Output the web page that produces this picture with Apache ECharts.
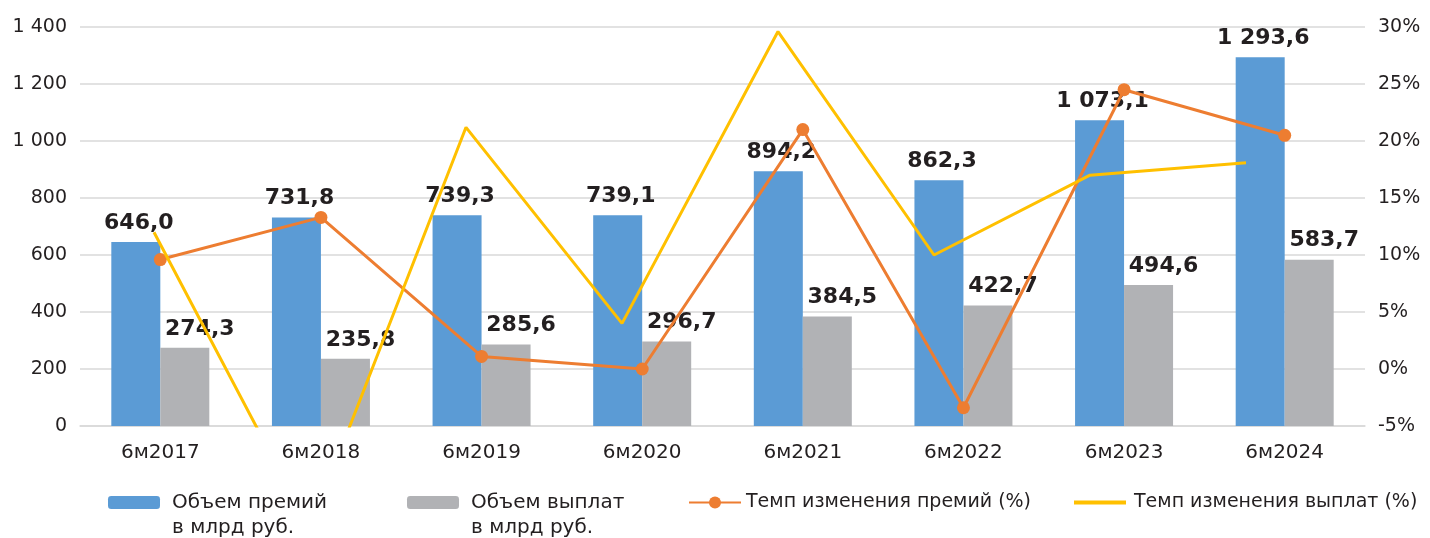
<!DOCTYPE html>
<html>
<head>
<meta charset="utf-8">
<script src="https://cdn.jsdelivr.net/npm/echarts@6/dist/echarts.min.js"></script>
<style>
  html, body { margin: 0; padding: 0; background: #fff; }
  #charts { width: 1430px; height: 538px; }
</style>
</head>
<body>
<div id="charts"></div>
<script>
// данные
let categories = ["6м2017", "6м2018", "6м2019", "6м2020", "6м2021", "6м2022", "6м2023", "6м2024"];
let premiums = [646.0, 731.8, 739.3, 739.1, 894.2, 862.3, 1073.1, 1293.6];
let payouts = [274.3, 235.8, 285.6, 296.7, 384.5, 422.7, 494.6, 583.7];
let premiumsRate = [9.6, 13.3, 1.1, 0.0, 21.0, -3.4, 24.5, 20.5];
let payoutsRate = [12.0, -14.0, 21.2, 4.0, 29.6, 10.0, 17.0, 18.1];
let leftTicks = { min: 0, max: 1400, interval: 200 };
let rightTicks = { min: -5, max: 30, interval: 5 };

let colors = ["#5b9bd5", "#b1b2b5", "#ed7d31", "#ffc000"];
let textColor = "#231f20";
let font = "DejaVu Sans";

function fmtNum(v) {
  let s = v.toFixed(1).replace(".", ",");
  let parts = s.split(",");
  parts[0] = parts[0].replace(/\B(?=(\d{3})+(?!\d))/g, " ");
  return parts.join(",");
}

let chartDom = document.getElementById("charts");
let myChart = echarts.init(chartDom);

let legendBase = {
  orient: "horizontal",
  itemWidth: 52,
  itemHeight: 13,
  itemGap: 0,
  padding: 0,
  selectedMode: false,
};

// пустая строка сверху, чтобы первая строка подписи стояла напротив значка
function twoLine(name) {
  return "\u00a0\n" + name;
}

let option = {
  animation: false,
  textStyle: { fontFamily: font, color: textColor },
  grid: [
    { left: 80, right: 65, top: 27, bottom: 112 },
    // жёлтая линия в оригинале смещена относительно столбцов
    { left: 76, right: 106, top: 27, bottom: 112 },
  ],
  legend: [
    Object.assign({}, legendBase, {
      left: 108,
      top: 465,
      data: ["Объем премий\nв млрд руб."],
      formatter: twoLine,
      textStyle: { fontFamily: font, fontSize: 20, color: textColor, lineHeight: 25, padding: [0, 0, 0, 7] },
    }),
    Object.assign({}, legendBase, {
      left: 407,
      top: 465,
      data: ["Объем выплат\nв млрд руб."],
      formatter: twoLine,
      textStyle: { fontFamily: font, fontSize: 20, color: textColor, lineHeight: 25, padding: [0, 0, 0, 7] },
    }),
    Object.assign({}, legendBase, {
      left: 688,
      top: 490,
      itemHeight: 15,
      data: ["Темп изменения премий (%)"],
      textStyle: { fontFamily: font, fontSize: 19, color: textColor, lineHeight: 25 },
    }),
    Object.assign({}, legendBase, {
      left: 1074,
      top: 490,
      itemHeight: 4,
      data: [{ name: "Темп изменения выплат (%)", icon: "rect" }],
      textStyle: { fontFamily: font, fontSize: 19, color: textColor, lineHeight: 25, padding: [0, 0, 0, 3] },
    }),
  ],
  xAxis: [
    {
      type: "category",
      gridIndex: 0,
      data: categories,
      axisLine: { show: true, lineStyle: { color: "#d9d9d9", width: 1.5 } },
      axisTick: { show: false },
      axisLabel: { fontFamily: font, fontSize: 20, color: textColor, margin: 17 },
    },
    {
      type: "category",
      gridIndex: 1,
      data: categories,
      show: false,
    },
  ],
  yAxis: [
    {
      type: "value",
      gridIndex: 0,
      min: leftTicks.min,
      max: leftTicks.max,
      interval: leftTicks.interval,
      axisLine: { show: false },
      axisTick: { show: false },
      splitLine: { show: true, lineStyle: { color: "#d9d9d9", width: 1.5 } },
      axisLabel: {
        fontFamily: font,
        fontSize: 19,
        color: textColor,
        margin: 13,
        formatter: function (v) {
          return String(v).replace(/\B(?=(\d{3})+(?!\d))/g, " ");
        },
      },
    },
    {
      type: "value",
      gridIndex: 0,
      position: "right",
      min: rightTicks.min,
      max: rightTicks.max,
      interval: rightTicks.interval,
      axisLine: { show: false },
      axisTick: { show: false },
      splitLine: { show: false },
      axisLabel: { fontFamily: font, fontSize: 19, color: textColor, margin: 13, formatter: "{value}%" },
    },
    {
      type: "value",
      gridIndex: 1,
      min: rightTicks.min,
      max: rightTicks.max,
      interval: rightTicks.interval,
      show: false,
    },
  ],
  series: [
    {
      name: "Объем премий\nв млрд руб.",
      type: "bar",
      xAxisIndex: 0,
      yAxisIndex: 0,
      barWidth: 49,
      barGap: "0%",
      itemStyle: { color: colors[0] },
      label: {
        show: true,
        position: "top",
        distance: 8,
        fontFamily: font,
        fontWeight: "bold",
        fontSize: 22,
        color: textColor,
        offset: [3, 0],
        formatter: function (p) {
          return fmtNum(p.value);
        },
      },
      data: premiums,
    },
    {
      name: "Объем выплат\nв млрд руб.",
      type: "bar",
      xAxisIndex: 0,
      yAxisIndex: 0,
      barWidth: 49,
      barGap: "0%",
      itemStyle: { color: colors[1] },
      label: {
        show: true,
        position: "top",
        distance: 8,
        fontFamily: font,
        fontWeight: "bold",
        fontSize: 22,
        color: textColor,
        offset: [15, 0],
        formatter: function (p) {
          return fmtNum(p.value);
        },
      },
      data: payouts,
    },
    {
      name: "Темп изменения премий (%)",
      type: "line",
      xAxisIndex: 0,
      yAxisIndex: 1,
      z: 3,
      symbol: "circle",
      symbolSize: 13,
      lineStyle: { color: colors[2], width: 3 },
      itemStyle: { color: colors[2] },
      data: premiumsRate,
    },
    {
      name: "Темп изменения выплат (%)",
      type: "line",
      xAxisIndex: 1,
      yAxisIndex: 2,
      z: 4,
      symbol: "none",
      clip: true,
      lineStyle: { color: colors[3], width: 3 },
      itemStyle: { color: colors[3] },
      data: payoutsRate,
    },
  ],
};

option && myChart.setOption(option);
</script>
</body>
</html>
